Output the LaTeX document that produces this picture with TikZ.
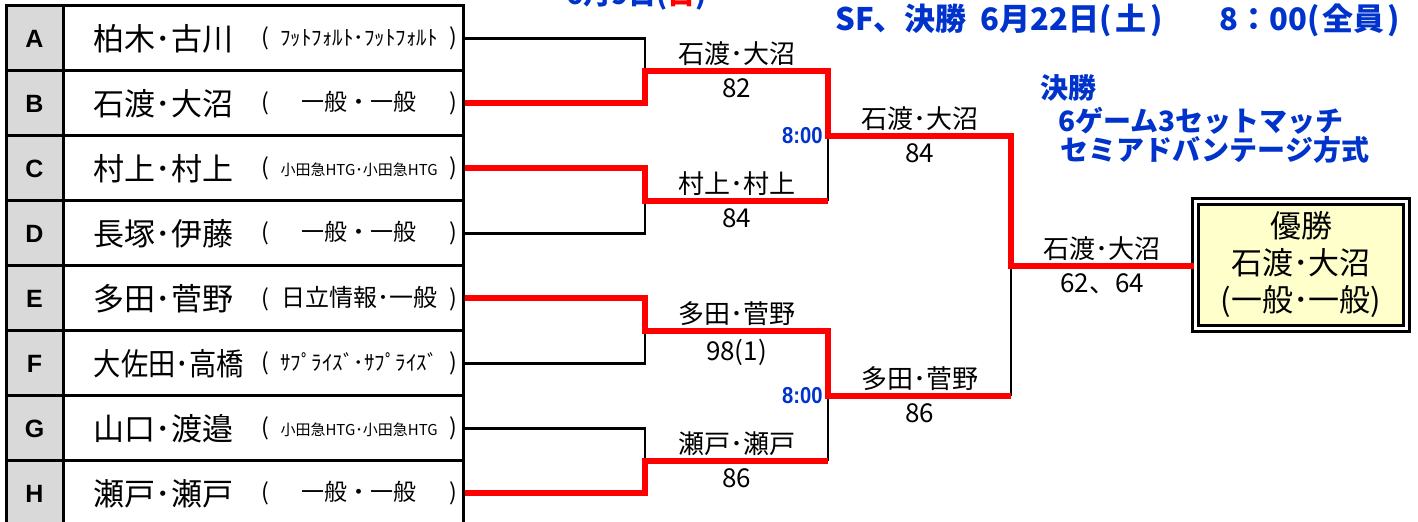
\documentclass[tikz,border=0pt]{standalone}
\usepackage{fontspec}
\setmainfont{Noto Sans CJK JP}
\newfontfamily\headfont{Liberation Sans}
\usetikzlibrary{positioning}
\definecolor{cellgray}{RGB}{217,217,217}
\definecolor{noteblue}{RGB}{0,51,204}
\definecolor{champyellow}{RGB}{255,255,204}

\begin{document}
\begin{tikzpicture}[x=0.5pt,y=-0.5pt,
  cell/.style={rectangle,draw,line width=1.5pt,minimum height=32.5pt,inner sep=0pt},
  letter/.style={cell,fill=cellgray,minimum width=28.5pt,font=\headfont\bfseries\fontsize{12.5}{14}\selectfont},
  entry/.style={cell,minimum width=200pt},
  pair/.style={anchor=west,inner sep=0pt,font=\fontsize{15.5}{18}\selectfont},
  club/.style={anchor=east,inner sep=0pt,font=\fontsize{11.5}{14}\selectfont},
  line/.style={line width=1.25pt},
  won/.style={line width=3pt,red},
  tag/.style={inner sep=1pt,text=black,font=\fontsize{13}{15}\selectfont},
  clock/.style={inner sep=0pt,text=noteblue,font=\headfont\bfseries\fontsize{11.5}{13}\selectfont},
  note/.style={anchor=west,inner sep=0pt,text=noteblue,font=\bfseries\fontsize{14}{17}\selectfont},
  champ/.style={rectangle,draw,line width=1.6pt,double=white,double distance=1.2pt,fill=champyellow,
    minimum width=105.6pt,minimum height=63.6pt,align=center,font=\fontsize{15.5}{18.5}\selectfont}]
\clip (0,0) rectangle (1418,522);
% entry table
\foreach \L/\P/\T/\S/\W [count=\i from 0] in {
  A/柏木･古川/ﾌｯﾄﾌｫﾙﾄ･ﾌｯﾄﾌｫﾙﾄ/10.5/1,
  B/石渡･大沼/一般・一般/11.5/1,
  C/村上･村上/小田急HTG･小田急HTG/7.5/1,
  D/長塚･伊藤/一般・一般/11.5/1,
  E/多田･菅野/日立情報･一般/12/1,
  F/大佐田･高橋/ｻﾌﾟﾗｲｽﾞ･ｻﾌﾟﾗｲｽﾞ/10.5/0.88,
  G/山口･渡邉/小田急HTG･小田急HTG/7.5/1,
  H/瀬戸･瀬戸/一般・一般/11.5/1}{
  \node[letter] (l\L) at (34.5,38.5+65*\i) {\L};
  \node[entry] (n\L) at (263,38.5+65*\i) {};
  \node[pair] (p\L) at ([xshift=16pt]n\L.west) {\scalebox{\W}[1]{\P}};
  \node[club] (t\L) at ([xshift=-3.5pt]n\L.east) {\hbox to 98pt{(\hfil{\fontsize{\S}{\S}\selectfont\T}\hfil)}};
}
% bracket joints
\coordinate (m1) at (645,71);
\coordinate (m2) at (645,201);
\coordinate (m3) at (645,331);
\coordinate (m4) at (645,461);
\coordinate (s1) at (828,136);
\coordinate (s2) at (828,396);
\coordinate (f) at (1011,266);
\node[champ] (win) at (1301,265) {優勝\\石渡･大沼\\(一般･一般)};
% losers
\draw[line] (nA.east) -| (m1);
\draw[line] (nD.east) -| (m2);
\draw[line] (nF.east) -| (m3);
\draw[line] (nG.east) -| (m4);
\draw[line] (m2 -| s1) -- (s1);
\draw[line] (m4 -| s2) -- (s2);
\draw[line] (s2 -| f) -- (f);
% winners
\draw[won] (nB.east) -| (m1) -- node[tag,above] (q1) {石渡･大沼} node[tag,below=1.5pt] (k1) {82} (m1 -| s1)
  -- (s1) -- node[tag,above] (q5) {石渡･大沼} node[tag,below=1.5pt] (k5) {84} (s1 -| f)
  -- (f) -- node[tag,above] (q7) {石渡･大沼} node[tag,below=1.5pt] (k7) {62、64} (f -| win.west);
\draw[won] (nC.east) -| (m2) -- node[tag,above] (q2) {村上･村上} node[tag,below=1.5pt] (k2) {84} (m2 -| s1);
\draw[won] (nE.east) -| (m3) -- node[tag,above] (q3) {多田･菅野} node[tag,below=1.5pt] (k3) {98(1)} (m3 -| s2)
  -- (s2) -- node[tag,above] (q6) {多田･菅野} node[tag,below=1.5pt] (k6) {86} (s2 -| f);
\draw[won] (nH.east) -| (m4) -- node[tag,above] (q4) {瀬戸･瀬戸} node[tag,below=1.5pt] (k4) {86} (m4 -| s2);
\node[clock,left=2.5pt of s1] (c1) {\scalebox{0.88}[1]{8:00}};
\node[clock,left=2.5pt of s2] (c2) {\scalebox{0.88}[1]{8:00}};
% notes
\node[note,anchor=base west] (prev) at (566,4.5) {6月9日(\textcolor{red}{日})};
\node[note,font=\bfseries\fontsize{15.5}{18}\selectfont] (head) at (835,20)
  {SF、決勝\hspace{7pt}6月22日(\hspace{2pt}土\hspace{2pt})\hspace{28pt}8：00(\hspace{1.5pt}全員\hspace{1.5pt})};
\node[note] (fin) at (1040,88) {決勝};
\node[note] (fmt1) at (1058,121) {6ゲーム3セットマッチ};
\node[note] (fmt2) at (1060,150) {セミアドバンテージ方式};
\end{tikzpicture}
\end{document}
